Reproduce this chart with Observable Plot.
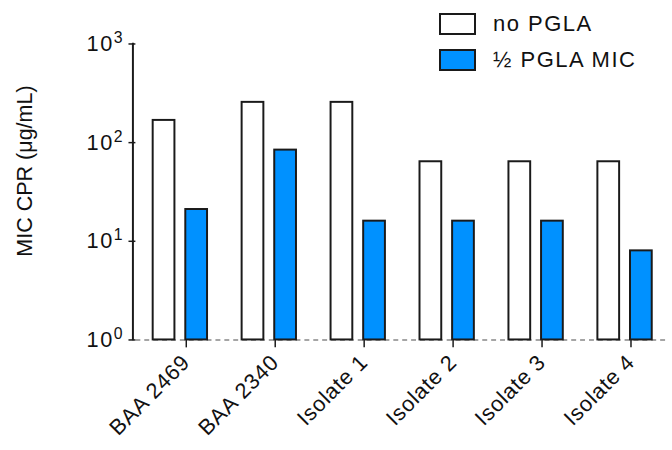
<!DOCTYPE html>
<html>
<head>
<meta charset="utf-8">
<script src="https://cdn.jsdelivr.net/npm/d3@7"></script>
<script src="https://cdn.jsdelivr.net/npm/@observablehq/plot@0.6"></script>
<style>
  html, body { margin: 0; padding: 0; background: #fff; overflow: hidden; }
  #wrap { position: relative; width: 672px; height: 450px; overflow: hidden; font-family: "Liberation Sans", Arial, sans-serif; color: #111; }
  #ylabel { position: absolute; left: 25px; top: 171px; transform: translate(-50%, -50%) rotate(-90deg); font-size: 21.5px; white-space: nowrap; }
  #legend { position: absolute; left: 439px; top: 13px; }
  .item { display: flex; align-items: center; height: 22px; margin-bottom: 14px; }
  .sw { box-sizing: border-box; width: 37px; height: 22px; border: 2px solid #1a1a1a; margin-right: 17px; }
  .lab { font-size: 22px; letter-spacing: 1.5px; white-space: nowrap; }
</style>
</head>
<body>
<div id="wrap">
  <div id="chart"></div>
  <div id="ylabel"></div>
  <div id="legend"></div>
</div>
<script>
const strains = ["BAA 2469", "BAA 2340", "Isolate 1", "Isolate 2", "Isolate 3", "Isolate 4"];
const conditions = ["no PGLA", "½ PGLA MIC"];
const noPGLA = [168, 256, 256, 64, 64, 64];
const halfPGLA = [21, 84, 16, 16, 16, 8];
const yTicks = [1, 10, 100, 1000];
const colors = ["#ffffff", "#0091ff"];
const yLabel = "MIC CPR (μg/mL)";

const data = strains.flatMap((s, i) => [
  {strain: s, cond: conditions[0], v: noPGLA[i]},
  {strain: s, cond: conditions[1], v: halfPGLA[i]}
]);

const chart = Plot.plot({
  width: 680,
  height: 450,
  marginLeft: 134.5,
  marginRight: 1,
  marginTop: 44,
  marginBottom: 106.5,
  style: {fontFamily: "'Liberation Sans', Arial, sans-serif", fontSize: "22px", letterSpacing: "1.5px", color: "#111", background: "#fff"},
  fx: {domain: strains, padding: 0, label: null, axis: null},
  x: {domain: conditions, paddingInner: 0.32, paddingOuter: 0.49, axis: null},
  y: {type: "log", domain: [1, 1000], axis: null},
  color: {domain: conditions, range: colors},
  marks: [
    Plot.ruleY([1], {stroke: "#888", strokeWidth: 1.5, strokeDasharray: "5,4"}),
    Plot.barY(data, {fx: "strain", x: "cond", y1: 1, y2: "v", fill: "cond", stroke: "#1a1a1a", strokeWidth: 2}),
    Plot.axisFx({anchor: "bottom", tickRotate: -45, tickSize: 8, tickPadding: 11, dx: 6, fontSize: 22, label: null, stroke: "#1a1a1a", strokeWidth: 1.5}),
    Plot.axisY({ticks: yTicks, tickSize: 7, tickPadding: 5, fontSize: 22, label: null, stroke: "#1a1a1a", strokeWidth: 1.5,
      tickFormat: d => "10^" + Math.round(Math.log10(d))})
  ]
});
document.getElementById("chart").appendChild(chart);

// x tick labels: slightly tighter spacing so the longest names stay inside the picture
d3.select(chart).selectAll('g[aria-label="fx-axis tick label"] text').style("letter-spacing", "0.8px");

// y axis line along the left edge of the frame, from the y scale
const ys = chart.scale("y");
d3.select(chart).append("line")
  .attr("x1", 134.5).attr("x2", 134.5)
  .attr("y1", ys.apply(1000) - 0.75).attr("y2", ys.apply(1) + 0.75)
  .attr("stroke", "#1a1a1a").attr("stroke-width", 2);

// superscript exponents on y tick labels
d3.select(chart).selectAll('g[aria-label="y-axis tick label"] text').each(function() {
  const t = d3.select(this);
  const exp = t.text().split("^")[1];
  t.text("10");
  t.append("tspan").attr("dy", "-8").attr("font-size", "16px").text(exp);
});

document.getElementById("ylabel").textContent = yLabel;
const legend = d3.select("#legend");
conditions.forEach((c, i) => {
  const it = legend.append("div").attr("class", "item");
  it.append("div").attr("class", "sw").style("background", colors[i]);
  it.append("div").attr("class", "lab").text(c);
});
</script>
</body>
</html>
